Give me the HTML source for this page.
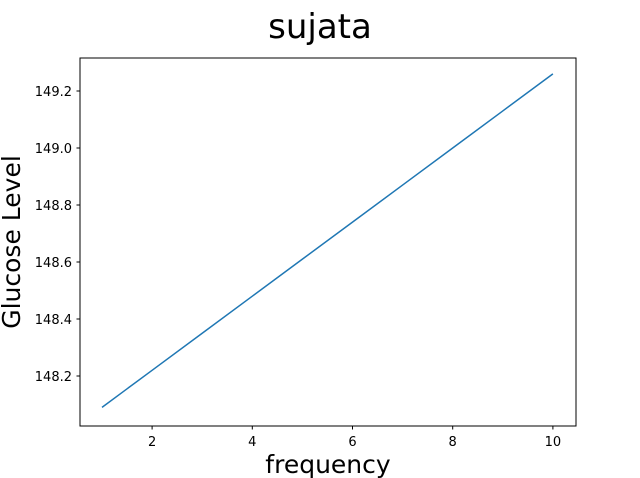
<!DOCTYPE html>
<html><head><meta charset="utf-8"><style>
body{margin:0;background:#fff;}
svg{display:block;font-family:"DejaVu Sans","Liberation Sans",sans-serif;}
</style></head><body>
<svg id="chart" width="640" height="478">
<rect x="0" y="0" width="640" height="478" fill="#fff"/>
<text x="320" y="38" text-anchor="middle" font-size="34">sujata</text>
<g id="ticks"></g>
<path id="line" fill="none" stroke="#1f77b4" stroke-width="1.5"/>
<rect x="80" y="58" width="496" height="368" fill="none" stroke="#000" stroke-width="1"/>
<text x="328" y="473" text-anchor="middle" font-size="25">frequency</text>
<text transform="translate(20,242) rotate(-90)" text-anchor="middle" font-size="25">Glucose Level</text>
</svg>
<script>
const xValues = [1,2,3,4,5,6,7,8,9,10];
const yValues = [148.09,148.22,148.35,148.48,148.61,148.74,148.87,149.00,149.13,149.26];
const xTicks = [2,4,6,8,10];
const yTicks = [148.2,148.4,148.6,148.8,149.0,149.2];
const yTickLabels = ["148.2","148.4","148.6","148.8","149.0","149.2"];
function sx(v){return 102+(v-1)*50.1;}
function sy(v){return 376-(v-148.2)*285;}
const ns="http://www.w3.org/2000/svg";
const g=document.getElementById('ticks');
xTicks.forEach(t=>{
  const l=document.createElementNS(ns,'line');
  l.setAttribute('x1',sx(t));l.setAttribute('x2',sx(t));l.setAttribute('y1',426);l.setAttribute('y2',429.5);l.setAttribute('stroke','#000');
  
  
  g.appendChild(l);
  const tx=document.createElementNS(ns,'text');
  tx.setAttribute('x',sx(t));tx.setAttribute('y',446);tx.setAttribute('text-anchor','middle');tx.setAttribute('font-size','13');
  tx.textContent=t;
  
  
  g.appendChild(tx);
});
yTicks.forEach((t,i)=>{
  const l=document.createElementNS(ns,'line');
  l.setAttribute('x1',76.5);l.setAttribute('x2',80);l.setAttribute('y1',sy(t));l.setAttribute('y2',sy(t));l.setAttribute('stroke','#000');
  
  
  g.appendChild(l);
  const tx=document.createElementNS(ns,'text');
  tx.setAttribute('x',72);tx.setAttribute('y',sy(t)+5);tx.setAttribute('text-anchor','end');tx.setAttribute('font-size','13');
  tx.textContent=yTickLabels[i];
  
  
  g.appendChild(tx);
});
document.getElementById('line').setAttribute('d',xValues.map((x,i)=>(i?'L':'M')+sx(x)+','+sy(yValues[i])).join(' '));
</script>
</body></html>
